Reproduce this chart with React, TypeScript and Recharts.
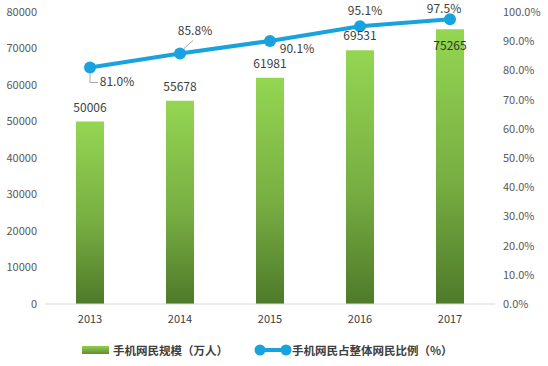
import * as React from "react"
import {
  ComposedChart, Bar, Line, XAxis, YAxis, Legend, LabelList,
} from "recharts"

// ── data ──────────────────────────────────────────────
const YEARS = ["2013", "2014", "2015", "2016", "2017"]
const USERS = [50006, 55678, 61981, 69531, 75265] // 手机网民规模（万人）
const RATIO = [81.0, 85.8, 90.1, 95.1, 97.5]      // 手机网民占整体网民比例（%）
const LEFT_TICKS = [0, 10000, 20000, 30000, 40000, 50000, 60000, 70000, 80000]
const RIGHT_TICKS = [0, 10, 20, 30, 40, 50, 60, 70, 80, 90, 100]

const BAR_NAME = "手机网民规模（万人）"
const LINE_NAME = "手机网民占整体网民比例（%）"

const rows = YEARS.map((y, i) => ({ year: y, users: USERS[i], ratio: RATIO[i] }))

// ── styles ────────────────────────────────────────────
const FONT = "'Noto Sans CJK SC', 'Noto Sans', sans-serif"
const BLUE = "#19A3DE"
const TICK = { fontFamily: FONT, fontSize: 11, fill: "#595959" }

// label offsets for the percent labels (dx, dy from the point)
const RATIO_LABEL_POS = [
  { dx: 27, dy: 15 },
  { dx: 15, dy: -22 },
  { dx: 27, dy: 9 },
  { dx: 5, dy: -15 },
  { dx: -6, dy: -10 },
]

const BarLabel = (props: any) => {
  const { x, y, width, value, index } = props
  const inside = index === USERS.length - 1
  return (
    <text
      x={x + width / 2}
      y={inside ? y + 17 : y - 13}
      textAnchor="middle"
      dominantBaseline="middle"
      fontFamily={FONT}
      fontSize={12}
      fill={inside ? "#26401A" : "#404040"}
    >
      {value}
    </text>
  )
}

const RatioLabel = (props: any) => {
  const { x, y, value, index } = props
  const p = RATIO_LABEL_POS[index]
  return (
    <g>
      {index === 0 && (
        <polyline points={`${x},${y + 6} ${x},${y + 15} ${x + 8},${y + 15}`} fill="none" stroke="#A6A6A6" strokeWidth={1} />
      )}
      {index === 1 && (
        <line x1={x + 4} y1={y - 5} x2={x + 13} y2={y - 13} stroke="#A6A6A6" strokeWidth={1} />
      )}
      <text
        x={x + p.dx}
        y={y + p.dy}
        textAnchor="middle"
        dominantBaseline="middle"
        fontFamily={FONT}
        fontSize={12}
        fill="#404040"
      >
        {value.toFixed(1)}%
      </text>
    </g>
  )
}

const LegendContent = () => (
  <div style={{
    height: 32, display: "flex", alignItems: "center", justifyContent: "flex-start",
    fontFamily: FONT, fontSize: 11.5, fontWeight: 700, color: "#404040", paddingLeft: 82,
  }}>
    <svg width={31} height={10}>
      <defs>
        <linearGradient id="legendGreen" x1="0" y1="0" x2="0" y2="1">
          <stop offset="0%" stopColor="#92D050" />
          <stop offset="100%" stopColor="#5E8E32" />
        </linearGradient>
      </defs>
      <rect x={0} y={1} width={27} height={8} fill="url(#legendGreen)" />
    </svg>
    <span>{BAR_NAME}</span>
    <svg width={38} height={14} style={{ marginLeft: 26 }}>
      <line x1={6} y1={7} x2={32} y2={7} stroke={BLUE} strokeWidth={4} />
      <circle cx={6} cy={7} r={5.5} fill={BLUE} />
      <circle cx={32} cy={7} r={5.5} fill={BLUE} />
    </svg>
    <span>{LINE_NAME}</span>
  </div>
)

export default function App() {
  return (
    <div style={{ position: "absolute", left: 0, top: 0, width: 548, height: 366, background: "#fff" }}>
      <ComposedChart
        width={548}
        height={366}
        data={rows}
        margin={{ top: 12, right: 0, bottom: 0, left: 0 }}
      >
        <defs>
          <linearGradient id="barGreen" x1="0" y1="0" x2="0" y2="1">
            <stop offset="0%" stopColor="#94D652" />
            <stop offset="55%" stopColor="#78AE42" />
            <stop offset="100%" stopColor="#4E7A2A" />
          </linearGradient>
        </defs>
        <XAxis
          dataKey="year"
          tick={{ ...TICK, fill: "#404040" }}
          tickLine={false}
          axisLine={{ stroke: "#D9D9D9" }}
          tickMargin={5}
          height={30}
        />
        <YAxis
          yAxisId="left"
          domain={[0, 80000]}
          ticks={LEFT_TICKS}
          tick={TICK}
          axisLine={false}
          tickLine={false}
          width={45}
        />
        <YAxis
          yAxisId="right"
          orientation="right"
          domain={[0, 100]}
          ticks={RIGHT_TICKS}
          tickFormatter={(v: number) => `${v.toFixed(1)}%`}
          tick={TICK}
          axisLine={false}
          tickLine={false}
          width={53}
        />
        <Legend verticalAlign="bottom" height={32} content={<LegendContent />} />
        <Bar
          yAxisId="left"
          dataKey="users"
          name={BAR_NAME}
          fill="url(#barGreen)"
          barSize={28}
          isAnimationActive={false}
        >
          <LabelList dataKey="users" content={<BarLabel />} />
        </Bar>
        <Line
          yAxisId="right"
          dataKey="ratio"
          name={LINE_NAME}
          stroke={BLUE}
          strokeWidth={4}
          dot={{ r: 6, fill: BLUE, stroke: BLUE, strokeWidth: 0 }}
          isAnimationActive={false}
        >
          <LabelList dataKey="ratio" content={<RatioLabel />} />
        </Line>
      </ComposedChart>
    </div>
  )
}
